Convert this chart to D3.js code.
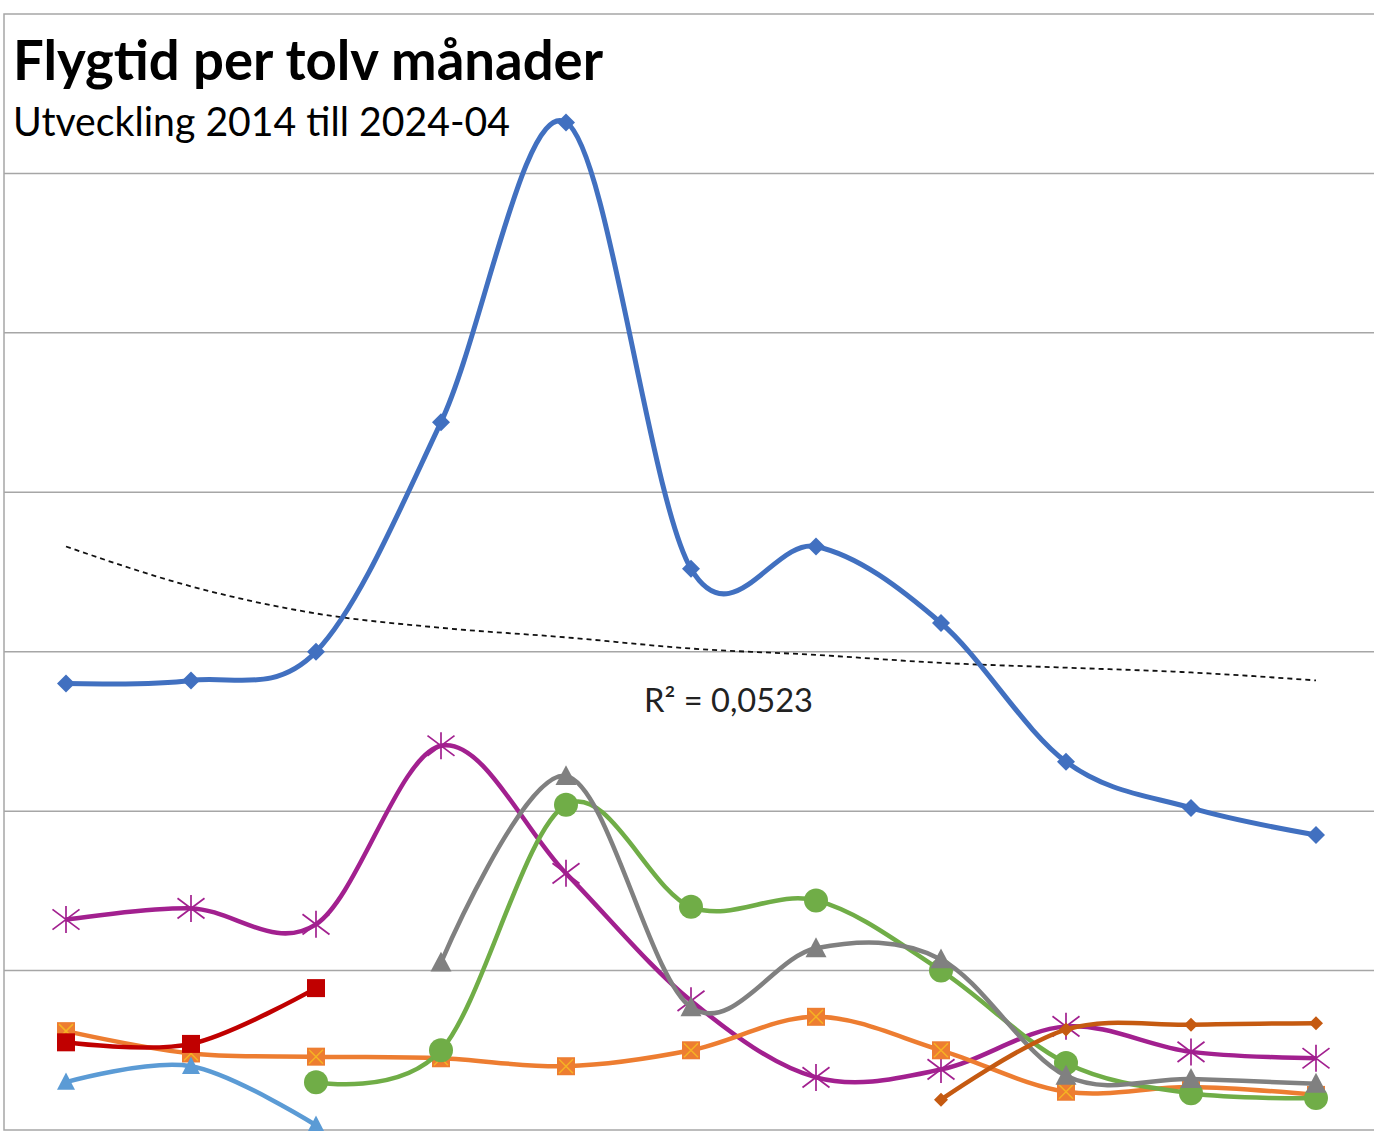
<!DOCTYPE html>
<html>
<head>
<meta charset="utf-8">
<script src="https://cdn.jsdelivr.net/npm/d3@7"></script>
<style>
  body { margin: 0; background: #fff; }
  svg { display: block; }
  .grid line { stroke: #a6a6a6; stroke-width: 1.5; }
  .frame { stroke: #a6a6a6; stroke-width: 1.5; fill: none; }
  .title { font-family: Lato, sans-serif; font-weight: 700; }
  .sub { font-family: Lato, sans-serif; }
</style>
</head>
<body>
<div id="chart-container"></div>
<script>
// categories (years)
var years = ["2014","2015","2016","2017","2018","2019","2020","2021","2022","2023","2024"];
// grid values (no labels shown)
var gridTicks = [100, 200, 300, 400, 500, 600];

// series values (null = no value)
var blueVals   = [280, 282, 300, 444, 632, 352, 366, 318, 231, 202, 185];
var purpleVals = [132, 139, 129, 241, 161, 81, 33, 38, 65, 49, 45];
var grayVals   = [null, null, null, 105, 222, 77, 114, 107, 34, 32, 29];
var greenVals  = [null, null, 30, 50, 204, 140, 144, 100, 42, 23, 20];
var orangeVals = [62, 48, 46, 45, 40, 50, 71, 50, 24, 27, 22];
var redVals    = [55, 54, 89, null, null, null, null, null, null, null, null];
var lightVals  = [30, 40, 3, null, null, null, null, null, null, null, null];
var rustVals   = [null, null, null, null, null, null, null, 19, 63, 66, 67];
// logarithmic trend line of the blue series, as seen in the picture
var trendVals  = [366, 341, 324, 315, 309, 302, 298, 293, 290, 287, 282];
var trendLabel = "R² = 0,0523";

var width = 1374, height = 1131;

var svg = d3.select("#chart-container")
  .append("svg")
    .attr("width", width)
    .attr("height", height);

var x = d3.scalePoint()
    .domain(years)
    .range([66, 1316]);

var y = d3.scaleLinear()
    .domain([0, 700])
    .range([1130, 14]);

// grid lines
svg.append("g")
    .attr("class", "grid")
  .selectAll("line")
  .data(gridTicks)
  .enter().append("line")
    .attr("x1", 4)
    .attr("x2", width)
    .attr("y1", function(d) { return y(d); })
    .attr("y2", function(d) { return y(d); });

// frame (top, left, bottom)
svg.append("path")
    .attr("class", "frame")
    .attr("d", "M" + width + "," + y(700) + "H4V" + y(0) + "H" + width);

var line = d3.line()
    .defined(function(d) { return d.v != null; })
    .x(function(d) { return x(d.year); })
    .y(function(d) { return y(d.v); })
    .curve(d3.curveCatmullRom.alpha(0));

function toPoints(vals) {
  return vals.map(function(v, i) { return {year: years[i], v: v}; })
    .filter(function(d) { return d.v != null; });
}

var series = [
  {name: "blue",   vals: blueVals,   color: "#4170c0", w: 5,   marker: "diamond", size: 18},
  {name: "purple", vals: purpleVals, color: "#a2208f", w: 4.5, marker: "star",    size: 27},
  {name: "orange", vals: orangeVals, color: "#ed7d31", w: 4.5, marker: "squarex", size: 18},
  {name: "red",    vals: redVals,    color: "#c00000", w: 4.5, marker: "square",  size: 18},
  {name: "light",  vals: lightVals,  color: "#5b9bd5", w: 4.5, marker: "triangle", size: 18},
  {name: "green",  vals: greenVals,  color: "#70ad47", w: 4.5, marker: "circle",  size: 24},
  {name: "gray",   vals: grayVals,   color: "#808080", w: 4.5, marker: "triangle", size: 21},
  {name: "rust",   vals: rustVals,   color: "#c55a11", w: 4.5, marker: "diamond", size: 14}
];

// trend line
svg.append("path")
    .datum(toPoints(trendVals))
    .attr("fill", "none")
    .attr("stroke", "#111")
    .attr("stroke-width", 1.8)
    .attr("stroke-dasharray", "5,4")
    .attr("d", d3.line()
      .x(function(d) { return x(d.year); })
      .y(function(d) { return y(d.v); })
      .curve(d3.curveMonotoneX));

svg.append("text")
    .attr("class", "sub")
    .attr("x", 644)
    .attr("y", 712)
    .attr("font-size", 32)
    .attr("textLength", 169)
    .attr("lengthAdjust", "spacingAndGlyphs")
    .attr("fill", "#222")
    .text(trendLabel);

function drawMarker(g, s, d) {
  var cx = x(d.year), cy = y(d.v), r = s.size / 2;
  if (s.marker == "diamond") {
    g.append("path")
      .attr("d", "M" + cx + "," + (cy - r) + "L" + (cx + r) + "," + cy + "L" + cx + "," + (cy + r) + "L" + (cx - r) + "," + cy + "Z")
      .attr("fill", s.color);
  } else if (s.marker == "square" || s.marker == "squarex") {
    g.append("rect")
      .attr("x", cx - r).attr("y", cy - r)
      .attr("width", s.size).attr("height", s.size)
      .attr("fill", s.color);
    if (s.marker == "squarex") {
      g.append("path")
        .attr("d", "M" + (cx - r + 2) + "," + (cy - r + 2) + "L" + (cx + r - 2) + "," + (cy + r - 2) +
                   "M" + (cx + r - 2) + "," + (cy - r + 2) + "L" + (cx - r + 2) + "," + (cy + r - 2))
        .attr("stroke", "#f5b323")
        .attr("stroke-width", 1.5);
    }
  } else if (s.marker == "triangle") {
    var h = s.size * 0.85;
    g.append("path")
      .attr("d", "M" + cx + "," + (cy - h / 2 - 2) + "L" + (cx + r) + "," + (cy + h / 2) + "L" + (cx - r) + "," + (cy + h / 2) + "Z")
      .attr("fill", s.color);
  } else if (s.marker == "circle") {
    g.append("circle")
      .attr("cx", cx).attr("cy", cy).attr("r", r)
      .attr("fill", s.color);
  } else if (s.marker == "star") {
    g.append("path")
      .attr("d", "M" + cx + "," + (cy - r) + "V" + (cy + r) +
                 "M" + (cx - r) + "," + (cy - r * 0.75) + "L" + (cx + r) + "," + (cy + r * 0.75) +
                 "M" + (cx + r) + "," + (cy - r * 0.75) + "L" + (cx - r) + "," + (cy + r * 0.75))
      .attr("stroke", s.color)
      .attr("stroke-width", 1.7)
      .attr("fill", "none");
  }
}

series.forEach(function(s) {
  var pts = toPoints(s.vals);
  var g = svg.append("g").attr("class", "series " + s.name);
  g.append("path")
      .datum(pts)
      .attr("fill", "none")
      .attr("stroke", s.color)
      .attr("stroke-width", s.w)
      .attr("stroke-linejoin", "round")
      .attr("d", line);
  pts.forEach(function(d) { drawMarker(g, s, d); });
});

// titles
svg.append("text")
    .attr("class", "title")
    .attr("x", 13)
    .attr("y", 80)
    .attr("font-size", 56)
    .attr("textLength", 590)
    .attr("lengthAdjust", "spacingAndGlyphs")
    .text("Flygtid per tolv månader");

svg.append("text")
    .attr("class", "sub")
    .attr("x", 13)
    .attr("y", 136)
    .attr("font-size", 40)
    .attr("textLength", 497)
    .attr("lengthAdjust", "spacingAndGlyphs")
    .text("Utveckling 2014 till 2024-04");
</script>
</body>
</html>
